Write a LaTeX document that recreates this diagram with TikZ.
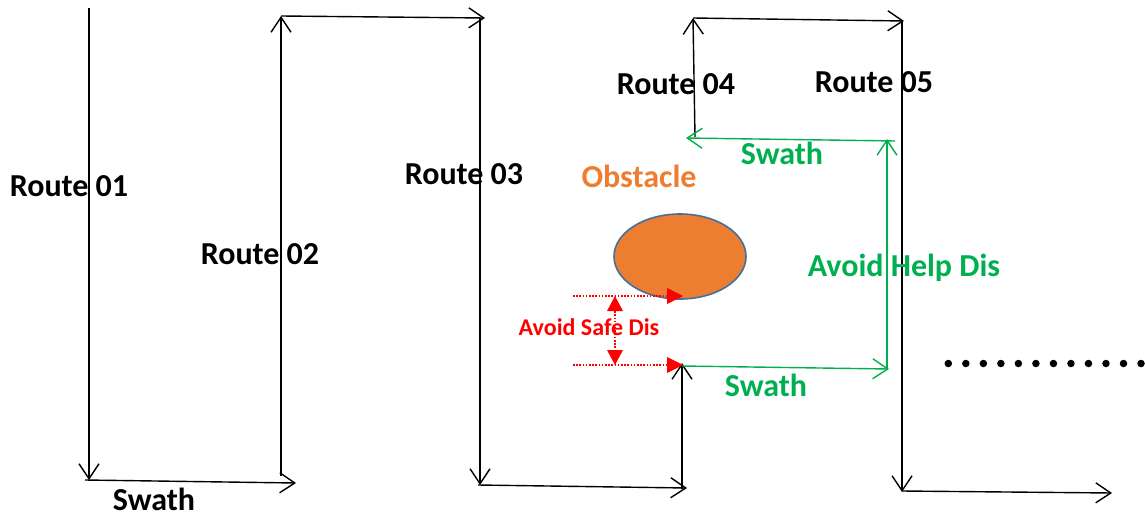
\documentclass[tikz,border=0pt]{standalone}
\usepackage{fontspec}
\setmainfont{Carlito}
\usetikzlibrary{arrows.meta,shapes.geometric,calc}
\definecolor{routegreen}{HTML}{00B050}
\definecolor{obsorange}{HTML}{ED7D31}
\definecolor{obsblue}{HTML}{41719C}
\definecolor{safered}{HTML}{FF0000}
\tikzset{
  route/.style={line width=1.4pt, -{Straight Barb[length=15pt,width=20pt,line width=1.4pt]}},
  greenroute/.style={route, draw=routegreen},
  lbl/.style={font=\bfseries\fontsize{32}{35}\selectfont, inner sep=0pt},
  greenlbl/.style={lbl, text=routegreen},
  safeline/.style={draw=safered, line width=1.3pt, dash pattern=on 1.6pt off 1.6pt},
  dot/.style={circle, fill=black, inner sep=0pt, minimum size=7.5pt}
}
\begin{document}
\begin{tikzpicture}[x=1pt,y=-1pt]
\useasboundingbox (0,0) rectangle (1145,516);
% route corners
\coordinate (r1s) at (89,8);   \coordinate (r1e) at (89,480);
\coordinate (s1s) at (85,480); \coordinate (s1e) at (296,483);
\coordinate (r2s) at (281,476);\coordinate (r2e) at (281,16);
\coordinate (t2s) at (281,16); \coordinate (t2e) at (485,18);
\coordinate (r3s) at (480,18); \coordinate (r3e) at (480,485);
\coordinate (b3s) at (478,485);\coordinate (b3e) at (687,488);
\coordinate (u3s) at (682,489);\coordinate (u3e) at (682,363);
\coordinate (g1s) at (682,366);\coordinate (g1e) at (889,369);
\coordinate (g2s) at (887,368);\coordinate (g2e) at (887,139);
\coordinate (g3s) at (895,141);\coordinate (g3e) at (686,138);
\coordinate (r4s) at (695,137);\coordinate (r4e) at (693,18);
\coordinate (t4s) at (693,18); \coordinate (t4e) at (904,21);
\coordinate (r5s) at (902,21); \coordinate (r5e) at (902,492);
\coordinate (b5s) at (902,491);\coordinate (b5e) at (1112,493);
% black routes
\draw[route] (r1s) -- (r1e);
\draw[route] (s1s) -- (s1e);
\draw[route] (r2s) -- (r2e);
\draw[route] (t2s) -- (t2e);
\draw[route] (r3s) -- (r3e);
\draw[route] (b3s) -- (b3e);
\draw[route] (u3s) -- (u3e);
\draw[route] (r4s) -- (r4e);
\draw[route] (t4s) -- (t4e);
\draw[route] (r5s) -- (r5e);
\draw[route] (b5s) -- (b5e);
% green avoidance path
\draw[greenroute] (g1s) -- (g1e);
\draw[greenroute] (g2s) -- (g2e);
\draw[greenroute] (g3s) -- (g3e);
% obstacle
\node[ellipse, draw=obsblue, line width=1.6pt, fill=obsorange, minimum width=132pt, minimum height=85pt, inner sep=0pt] (obs) at (680,256.5) {};
% safe distance marks
\coordinate (sa1) at (573,296); \coordinate (sa2) at (683,296);
\coordinate (sb1) at (573,365); \coordinate (sb2) at (683,365);
\coordinate (sv1) at (615,296); \coordinate (sv2) at (615,365);
\draw[safeline] (sa1) -- ($(sa2)+(-14,0)$);
\draw[safeline] (sb1) -- ($(sb2)+(-14,0)$);
\fill[safered] (sa2) -- ++(-16,-8) -- ++(0,16) -- cycle;
\fill[safered] (sb2) -- ++(-16,-8) -- ++(0,16) -- cycle;
\draw[safeline] ($(sv1)+(0,12)$) -- ($(sv2)+(0,-12)$);
\fill[safered] (sv1) -- ++(-8,15) -- ++(16,0) -- cycle;
\fill[safered] (sv2) -- ++(-8,-15) -- ++(16,0) -- cycle;
% labels
\node[lbl] (l1) at (69,186) {Route 01};
\node[lbl] (l2) at (260,254) {Route 02};
\node[lbl] (l3) at (464,174) {Route 03};
\node[lbl] (l4) at (676,84) {Route 04};
\node[lbl] (l5) at (874,82) {Route 05};
\node[lbl] (sw1) at (154,499.5) {Swath};
\node[greenlbl] (sw2) at (782,153) {Swath};
\node[greenlbl] (sw3) at (766,385) {Swath};
\node[greenlbl] (ahd) at (904,268) {Avoid Help Dis};
\node[lbl, text=obsorange] (obl) at (639,176) {Obstacle};
\node[lbl, text=safered, font=\bfseries\fontsize{24}{26}\selectfont] (asd) at (589,327) {Avoid Safe Dis};
% continuation dots
\foreach \i in {0,...,11} {
  \node[dot] (d\i) at ({948.3+17.52*\i},363.5) {};
}
\end{tikzpicture}
\end{document}
